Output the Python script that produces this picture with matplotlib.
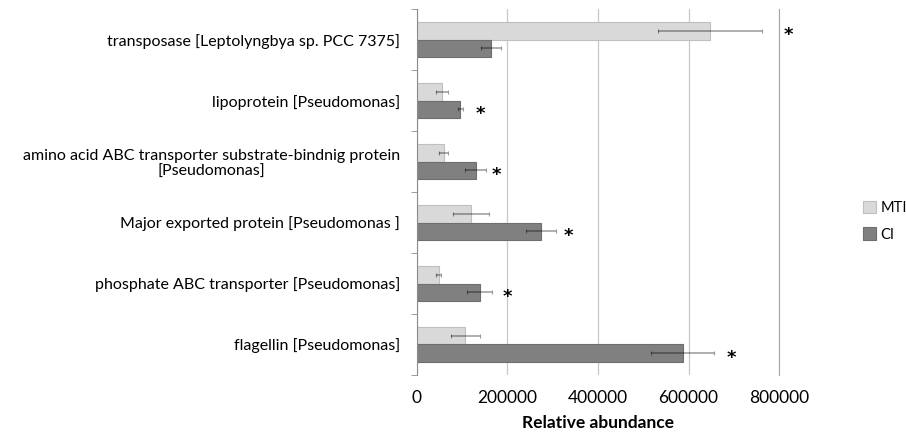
import matplotlib.pyplot as plt
import numpy as np

plt.rcParams['font.family'] = ['Lato', 'DejaVu Sans']

labels = ['transposase [Leptolyngbya sp. PCC 7375]',
          'lipoprotein [Pseudomonas]',
          'amino acid ABC transporter substrate-bindnig protein\n[Pseudomonas]',
          'Major exported protein [Pseudomonas ]',
          'phosphate ABC transporter [Pseudomonas]',
          'flagellin [Pseudomonas]']
mti = [647000, 56000, 60000, 120000, 48000, 107000]
mti_err = [115000, 13000, 10000, 40000, 5000, 32000]
ci = [163000, 96000, 130000, 275000, 139000, 587000]
ci_err = [22000, 5000, 23000, 33000, 28000, 70000]
# where the significance stars sit, and next to which bar
star_x = [820000, 140000, 175000, 335000, 200000, 695000]
star_on = ['mti', 'ci', 'ci', 'ci', 'ci', 'ci']

fig = plt.figure(figsize=(9.06, 4.32), dpi=100)
ax = fig.add_axes([0.460, 0.132, 0.400, 0.847])

n = len(labels)
y = np.arange(n)[::-1]
h = 0.29

ax.barh(y + h / 2, mti, height=h, color='#d9d9d9', edgecolor='#bfbfbf', linewidth=0.8, label='MTI', zorder=2)
ax.barh(y - h / 2, ci, height=h, color='#808080', edgecolor='#6e6e6e', linewidth=0.8, label='CI', zorder=2)
ax.errorbar(mti, y + h / 2, xerr=mti_err, fmt='none', ecolor=(0, 0, 0, 0.4), elinewidth=1.1, capsize=1.5, capthick=0.8, zorder=3)
ax.errorbar(ci, y - h / 2, xerr=ci_err, fmt='none', ecolor=(0, 0, 0, 0.4), elinewidth=1.1, capsize=1.5, capthick=0.8, zorder=3)

for i in range(n):
    yy = y[i] + h / 2 if star_on[i] == 'mti' else y[i] - h / 2
    ax.text(star_x[i], yy - 0.07, '*', ha='center', va='center', fontsize=13, fontweight='bold',
            color='black', family='DejaVu Sans')

ax.set_xlim(0, 800000)
ax.set_ylim(-0.5, n - 0.5)
ax.set_xticks([0, 200000, 400000, 600000, 800000])
ax.set_xticklabels(['0', '200000', '400000', '600000', '800000'], fontsize=12.5)
ax.grid(axis='x', color='#c8c8c8', linewidth=0.9, zorder=0)
ax.set_yticks(y)
ax.set_yticklabels(labels, fontsize=11.5, multialignment='center')
ax.tick_params(axis='y', length=0, pad=12)
ax.tick_params(axis='x', length=0, pad=11)
ax.set_yticks(np.arange(-0.5, n, 1), minor=True)
ax.tick_params(axis='y', which='minor', length=4, color='#8c8c8c')
ax.set_xlabel('Relative abundance', fontsize=12.5, fontweight='bold', labelpad=6)

for s in ['top', 'bottom']:
    ax.spines[s].set_visible(False)
ax.spines['right'].set_color('#a6a6a6')
ax.spines['left'].set_color('#8c8c8c')

ax.legend(loc='center left', bbox_to_anchor=(0.232 + 1, 0.42), frameon=False, fontsize=10.5,
          borderpad=0, borderaxespad=0, handlelength=0.9, handleheight=0.9,
          handletextpad=0.3, labelspacing=0.85)

fig.savefig('out.png', dpi=100)
